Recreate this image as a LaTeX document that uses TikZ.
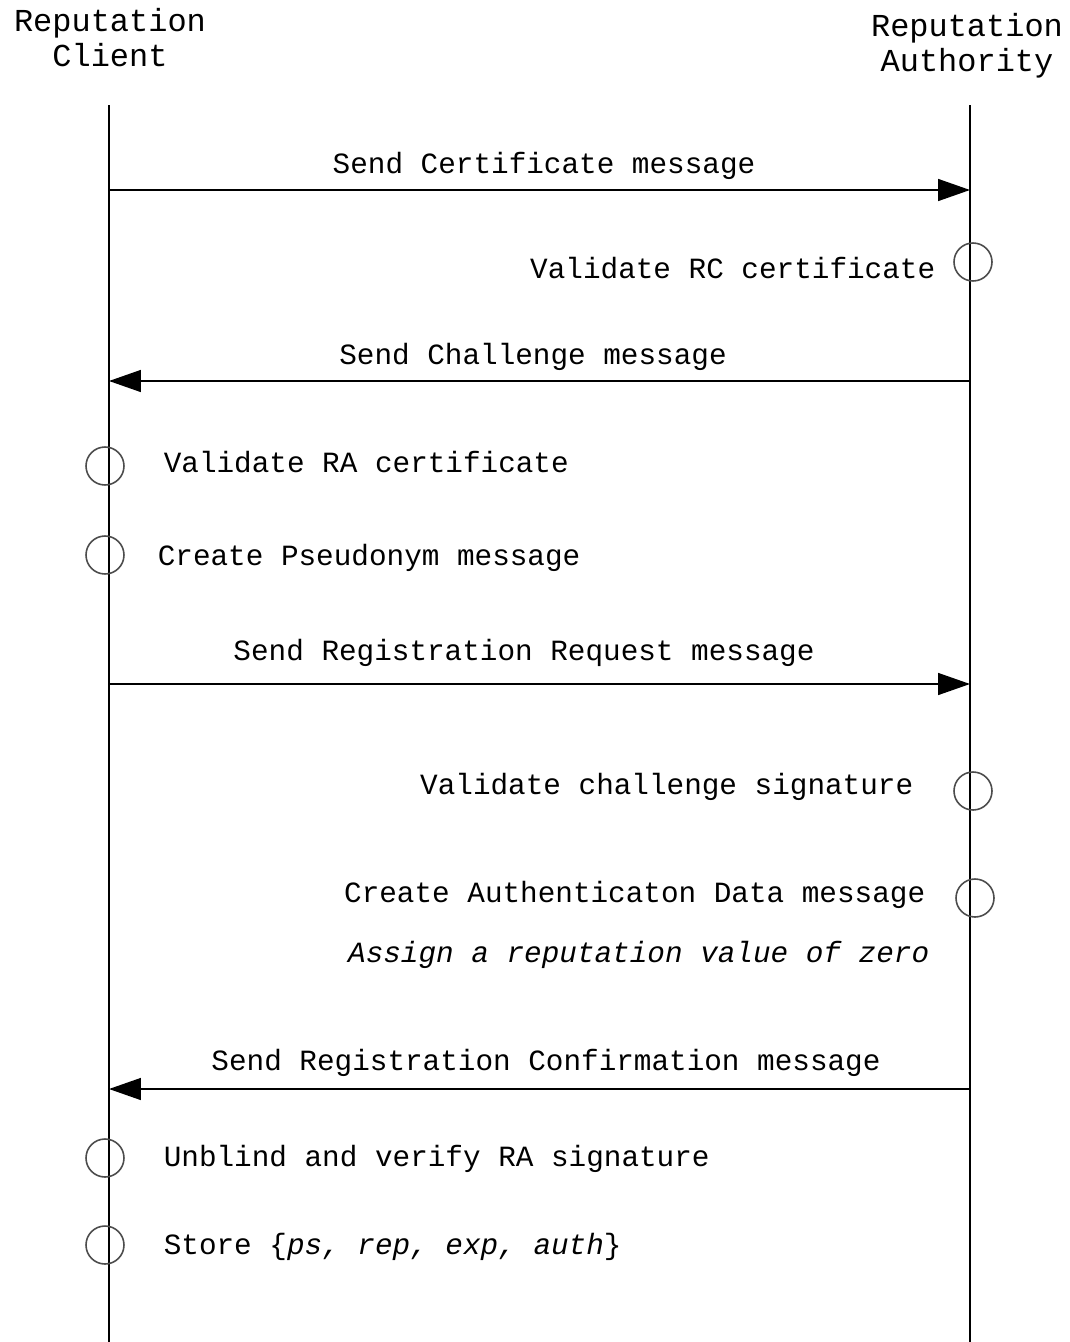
\documentclass[tikz,border=0pt]{standalone}
\usepackage{fontspec}
\setmainfont{Liberation Mono}
\usetikzlibrary{arrows.meta}

\begin{document}
\begin{tikzpicture}[x=0.02cm, y=-0.02cm, line width=0.9pt]
  % Settings
  \def\xc{109} % client lifeline
  \def\xa{970} % authority lifeline
  \tikzset{
    msg/.style={-{Triangle[length=0.64cm, width=0.44cm]}},
    act/.style={circle, draw=black!70, minimum size=0.76cm, inner sep=0pt},
    lbl/.style={font=\fontsize{16.7}{20}\selectfont, inner sep=0pt},
    head/.style={font=\fontsize{18.2}{19.9}\selectfont, align=center, inner sep=0pt}
  }
  \useasboundingbox (0,0) rectangle (1069,1342);

  % Participants
  \node[head] (rc) at (110, 38) {Reputation\\Client};
  \node[head] (ra) at (967, 46) {Reputation\\Authority};
  \coordinate (rc top) at (\xc, 105);
  \coordinate (rc bot) at (\xc, 1342);
  \coordinate (ra top) at (\xa, 105);
  \coordinate (ra bot) at (\xa, 1342);
  \draw (rc top) -- (rc bot);
  \draw (ra top) -- (ra bot);

  % Send Certificate
  \coordinate (c1) at (\xc, 190);
  \coordinate (a1) at (\xa, 190);
  \draw[msg] (c1) -- (a1);
  \node[lbl] (m1) at (544, 166) {Send Certificate message};

  % Validate RC certificate
  \node[act] (v1) at (973, 262) {};
  \node[lbl, anchor=east] (t1) at (936, 268) {Validate RC certificate};

  % Send Challenge
  \coordinate (a2) at (\xa, 381);
  \coordinate (c2) at (\xc, 381);
  \draw[msg] (a2) -- (c2);
  \node[lbl] (m2) at (533, 357) {Send Challenge message};

  % Client checks
  \node[act] (v2) at (105, 466) {};
  \node[lbl, anchor=west] (t2) at (163, 462) {Validate RA certificate};
  \node[act] (v3) at (105, 555) {};
  \node[lbl, anchor=west] (t3) at (157, 558) {Create Pseudonym message};

  % Send Registration Request
  \coordinate (c3) at (\xc, 684);
  \coordinate (a3) at (\xa, 684);
  \draw[msg] (c3) -- (a3);
  \node[lbl] (m3) at (524, 653) {Send Registration Request message};

  % Authority checks
  \node[act] (v4) at (973, 791) {};
  \node[lbl, anchor=east] (t4) at (914, 787) {Validate challenge signature};
  \node[act] (v5) at (975, 898) {};
  \node[lbl, anchor=east] (t5) at (926, 895) {Create Authenticaton Data message};
  \node[lbl, anchor=east] (t6) at (930, 955) {\itshape Assign a reputation value of zero};

  % Send Registration Confirmation
  \coordinate (a4) at (\xa, 1089);
  \coordinate (c4) at (\xc, 1089);
  \draw[msg] (a4) -- (c4);
  \node[lbl] (m4) at (546, 1063) {Send Registration Confirmation message};

  % Client storage
  \node[act] (v6) at (105, 1158) {};
  \node[lbl, anchor=west] (t7) at (163, 1159) {Unblind and verify RA signature};
  \node[act] (v7) at (105, 1245) {};
  \node[lbl, anchor=west] (t8) at (163, 1247) {Store \{\textit{ps, rep, exp, auth}\}};

\end{tikzpicture}
\end{document}
